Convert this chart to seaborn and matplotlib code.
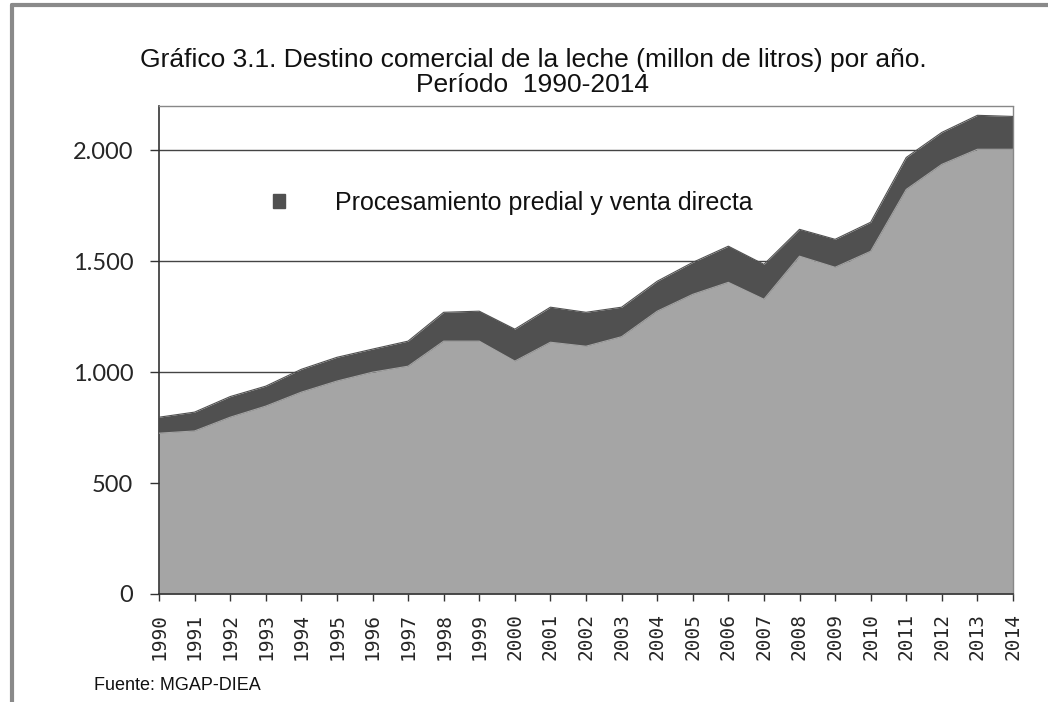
import matplotlib
matplotlib.use("Agg")
import matplotlib.pyplot as plt
import matplotlib.lines as mlines
from matplotlib.patches import Patch
import seaborn as sns
import pandas as pd

years = list(range(1990, 2015))
remision = [725, 735, 797, 847, 910, 960, 1000, 1027, 1140, 1140, 1050, 1135, 1117,
            1160, 1275, 1351, 1405, 1329, 1523, 1473, 1545, 1824, 1937, 2005, 2005]
predial = [72, 85, 93, 90, 103, 107, 104, 113, 130, 135, 144, 158, 153,
           133, 135, 144, 163, 157, 121, 126, 131, 144, 144, 153, 148]
y_ticks = [0, 500, 1000, 1500, 2000]
y_labels = ["0", "500", "1.000", "1.500", "2.000"]

title_line1 = "Gráfico 3.1. Destino comercial de la leche (millon de litros) por año."
title_line2 = "Período  1990-2014"
legend_label = "Procesamiento predial y venta directa"
source = "Fuente: MGAP-DIEA"

df = pd.DataFrame({"anio": years, "remision": remision, "predial": predial})
df["total"] = df["remision"] + df["predial"]

sns.set_theme(style="white")
plt.rcParams["font.family"] = ["Liberation Sans", "DejaVu Sans"]

W, H = 1048, 702
fig = plt.figure(figsize=(W / 100, H / 100), dpi=100)
ax = fig.add_axes([159 / W, 1 - 594 / H, (1013 - 159) / W, (594 - 106) / H])

light = "#a5a5a5"
dark = "#505050"

ax.set_axisbelow(True)
ax.yaxis.grid(True, color="#444444", linewidth=1.0)
ax.fill_between(df["anio"], 0, df["remision"], color=light, linewidth=0, zorder=2)
ax.fill_between(df["anio"], df["remision"], df["total"], color=dark, linewidth=0, zorder=2)
sns.lineplot(data=df, x="anio", y="total", ax=ax, color=dark, linewidth=0.8, zorder=3)
sns.lineplot(data=df, x="anio", y="remision", ax=ax, color=light, linewidth=0.8, zorder=3)

ax.set_xlim(1990, 2014)
ax.set_ylim(0, 2200)
ax.set_xticks(years)
ax.set_xticklabels([str(y) for y in years], rotation=90, family="DejaVu Sans Mono", fontsize=14)
ax.set_yticks(y_ticks)
ax.set_yticklabels(y_labels, family="Lato", fontsize=17)
ax.tick_params(axis="x", direction="out", length=5, width=1, color="#333333", pad=9, bottom=True)
ax.tick_params(axis="y", direction="out", length=6.5, width=1, color="#333333", pad=12, left=True)
ax.set_xlabel("")
ax.set_ylabel("")

for side in ["top", "right"]:
    ax.spines[side].set_color("#888888")
    ax.spines[side].set_linestyle((0, (1, 1)))
    ax.spines[side].set_linewidth(1)
ax.spines["left"].set_color("#333333")
ax.spines["bottom"].set_color("#333333")
ax.spines["left"].set_linewidth(1.2)
ax.spines["bottom"].set_linewidth(1.2)

leg = ax.legend(handles=[Patch(facecolor=dark, edgecolor=dark, label=legend_label)],
                loc="center left", bbox_to_anchor=(273 / W, 1 - 203 / H),
                bbox_transform=fig.transFigure, frameon=False, fontsize=18,
                handlelength=0.48, handleheight=0.48, handletextpad=2.0,
                borderpad=0, borderaxespad=0)
for t in leg.get_texts():
    t.set_color("#111111")

fig.text(533 / W, 1 - 67 / H, title_line1, ha="center", va="baseline", fontsize=19, color="#111111")
fig.text(533 / W, 1 - 92 / H, title_line2, ha="center", va="baseline", fontsize=19, color="#111111")
fig.text(94 / W, 1 - 685 / H, source, ha="left", va="center", fontsize=13, color="#111111")

fig.add_artist(mlines.Line2D([12 / W, 12 / W], [0, 1 - 5 / H], transform=fig.transFigure,
                             color="#8a8a8a", linewidth=3))
fig.add_artist(mlines.Line2D([12 / W, 1], [1 - 5 / H, 1 - 5 / H], transform=fig.transFigure,
                             color="#8a8a8a", linewidth=3))

fig.savefig("out.png", dpi=100)
